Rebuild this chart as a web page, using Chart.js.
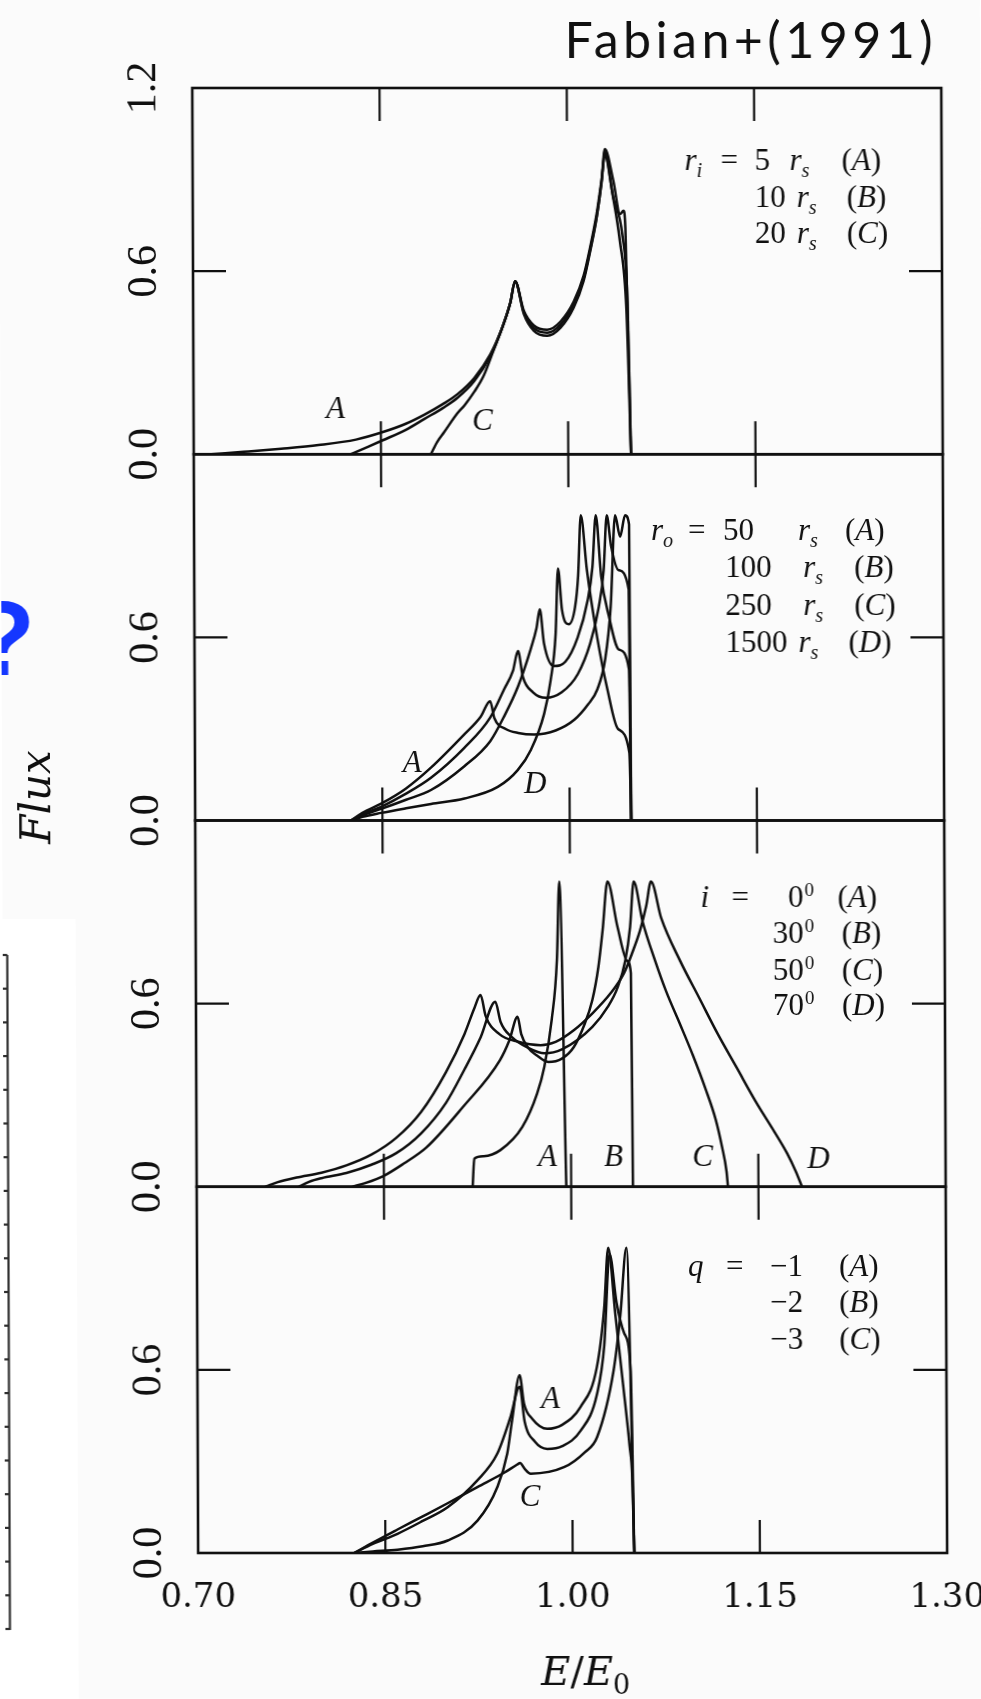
<!DOCTYPE html>
<html><head><meta charset="utf-8">
<script src="https://cdn.jsdelivr.net/npm/chart.js@4.4.1/dist/chart.umd.min.js"></script>
<style>
html,body{margin:0;padding:0;background:#fff;overflow:hidden;}
#c{display:block;width:981px;height:1699px;transform:skewX(0.23deg);transform-origin:0 270px;}
</style></head>
<body><canvas id="c" width="981" height="1699"></canvas>
<script>
// ---------------- axis ticks ----------------
const X_TICKS = [0.70, 0.85, 1.00, 1.15, 1.30];
const X_INNER_TICKS = [0.85, 1.00, 1.15];
const Y_TICKS_TOP = [0.0, 0.6, 1.2];
const Y_TICKS = [0.0, 0.6];
const Y_INNER_TICKS = [0.6];

// ---------------- panel 1 : r_i = 5, 10, 20 r_s ----------------
const P1_A_E = [0.714,0.74,0.77,0.80,0.83,0.851,0.87,0.885,0.90,0.9115,0.925,0.938,0.948,0.954,0.958,0.9649,0.9729,0.9836,0.9943,1.0049,1.0129,1.0183,1.0236,1.0276,1.0303,1.037,1.0423,1.045,1.0465,1.0503];
const P1_A_F = [0,0.008,0.018,0.03,0.048,0.072,0.10,0.13,0.165,0.197,0.25,0.328,0.42,0.495,0.567,0.459,0.404,0.388,0.415,0.481,0.568,0.666,0.776,0.896,1.0,0.896,0.787,0.798,0.74,0];
const P1_B_E = [0.826,0.84,0.851,0.87,0.885,0.90,0.9115,0.925,0.938,0.948,0.954,0.958,0.9649,0.9729,0.9836,0.9943,1.0049,1.0129,1.0183,1.0236,1.0276,1.0303,1.036,1.042,1.047,1.0503];
const P1_B_F = [0,0.025,0.045,0.08,0.116,0.152,0.185,0.24,0.322,0.42,0.495,0.567,0.465,0.413,0.398,0.425,0.49,0.575,0.672,0.78,0.89,0.99,0.86,0.70,0.48,0];
const P1_C_E = [0.890,0.895,0.9006,0.9115,0.917,0.925,0.9326,0.94,0.948,0.954,0.958,0.9649,0.9729,0.9836,0.9943,1.0049,1.0129,1.0183,1.0236,1.0276,1.0303,1.037,1.044,1.048,1.0503];
const P1_C_F = [0,0.04,0.072,0.135,0.16,0.205,0.258,0.335,0.42,0.495,0.567,0.47,0.422,0.408,0.435,0.5,0.585,0.68,0.79,0.9,0.98,0.84,0.72,0.5,0];

// ---------------- panel 2 : r_o = 50, 100, 250, 1500 r_s ----------------
const P2_A_E = [0.825,0.834,0.849,0.869,0.889,0.9158,0.929,0.9366,0.940,0.949,0.959,0.9719,0.989,1.004,1.015,1.0226,1.029,1.0335,1.0373,1.0413,1.0453,1.0485,1.0493];
const P2_A_F = [0,0.025,0.055,0.105,0.173,0.282,0.34,0.391,0.335,0.30,0.287,0.282,0.295,0.33,0.38,0.43,0.53,0.70,1.0,0.93,1.0,0.97,0];
const P2_B_E = [0.825,0.834,0.849,0.869,0.889,0.9158,0.9366,0.9479,0.955,0.9591,0.963,0.971,0.9812,0.994,1.007,1.017,1.024,1.028,1.0306,1.034,1.040,1.048,1.0493];
const P2_B_F = [0,0.02,0.045,0.088,0.14,0.238,0.337,0.43,0.49,0.555,0.47,0.42,0.402,0.42,0.48,0.58,0.70,0.82,1.0,0.90,0.82,0.757,0];
const P2_C_E = [0.825,0.834,0.849,0.869,0.889,0.9158,0.9366,0.9479,0.9591,0.9692,0.974,0.9767,0.980,0.9879,0.997,1.007,1.015,1.019,1.0218,1.026,1.032,1.040,1.048,1.0493];
const P2_C_F = [0,0.017,0.038,0.068,0.10,0.178,0.26,0.342,0.44,0.56,0.63,0.692,0.58,0.506,0.52,0.60,0.72,0.83,1.0,0.80,0.67,0.56,0.495,0];
const P2_D_E = [0.825,0.834,0.849,0.869,0.889,0.9158,0.9425,0.9585,0.9692,0.9799,0.9852,0.9893,0.9914,0.9945,0.9999,1.005,1.0075,1.0098,1.0146,1.0226,1.0306,1.039,1.048,1.0493];
const P2_D_F = [0,0.012,0.025,0.04,0.054,0.072,0.11,0.165,0.232,0.35,0.46,0.61,0.826,0.69,0.643,0.70,0.80,1.0,0.82,0.60,0.43,0.30,0.222,0];

// ---------------- panel 3 : i = 0, 30, 50, 70 deg ----------------
const P3_A_E = [0.9211,0.9225,0.930,0.9434,0.9611,0.973,0.9789,0.9849,0.9893,0.9914,0.9961];
const P3_A_F = [0,0.092,0.10,0.12,0.196,0.305,0.393,0.546,0.743,1.0,0];
const P3_B_E = [0.8248,0.835,0.850,0.866,0.884,0.9137,0.9434,0.951,0.9576,0.9605,0.966,0.973,0.982,0.993,1.0026,1.011,1.0175,1.0225,1.026,1.030,1.038,1.0456,1.0485,1.0495];
const P3_B_F = [0,0.012,0.036,0.076,0.128,0.262,0.415,0.48,0.557,0.50,0.455,0.43,0.409,0.42,0.458,0.53,0.611,0.72,0.84,1.0,0.85,0.74,0.70,0];
const P3_C_E = [0.7818,0.79,0.80,0.82,0.84,0.86,0.88,0.90,0.915,0.928,0.9398,0.944,0.953,0.966,0.979,0.993,1.0175,1.030,1.038,1.044,1.048,1.051,1.058,1.068,1.0767,1.088,1.098,1.108,1.116,1.121,1.1245,1.1256];
const P3_C_F = [0,0.016,0.028,0.045,0.072,0.11,0.175,0.275,0.385,0.49,0.606,0.54,0.49,0.455,0.437,0.45,0.524,0.59,0.655,0.74,0.85,1.0,0.87,0.74,0.64,0.53,0.43,0.32,0.22,0.13,0.05,0];
const P3_D_E = [0.755,0.765,0.78,0.80,0.82,0.84,0.86,0.88,0.90,0.915,0.923,0.928,0.932,0.943,0.958,0.976,0.988,1.0026,1.018,1.032,1.043,1.050,1.056,1.061,1.0649,1.073,1.088,1.103,1.118,1.133,1.148,1.163,1.173,1.180,1.1849];
const P3_D_F = [0,0.015,0.03,0.046,0.07,0.105,0.16,0.245,0.375,0.50,0.585,0.628,0.56,0.50,0.475,0.464,0.475,0.513,0.57,0.633,0.70,0.77,0.84,0.92,1.0,0.88,0.74,0.62,0.50,0.39,0.28,0.18,0.11,0.05,0];

// ---------------- panel 4 : q = -1, -2, -3 ----------------
const P4_A_E = [0.8251,0.84,0.8598,0.88,0.90,0.9239,0.9399,0.9479,0.9519,0.9581,0.9615,0.968,0.980,0.992,1.0067,1.020,1.026,1.0294,1.035,1.041,1.046,1.048,1.0494];
const P4_A_F = [0,0.005,0.011,0.022,0.041,0.106,0.216,0.325,0.434,0.582,0.49,0.44,0.407,0.42,0.478,0.609,0.80,1.0,0.78,0.55,0.35,0.248,0];
const P4_B_E = [0.8251,0.84,0.8598,0.88,0.90,0.9239,0.9399,0.9506,0.9581,0.962,0.970,0.980,0.992,1.0067,1.020,1.026,1.0305,1.036,1.042,1.047,1.0494];
const P4_B_F = [0,0.03,0.063,0.105,0.15,0.238,0.325,0.445,0.545,0.43,0.365,0.341,0.35,0.40,0.52,0.68,0.98,0.82,0.72,0.6,0];
const P4_C_E = [0.8251,0.84,0.8598,0.88,0.90,0.9239,0.945,0.9559,0.9581,0.962,0.9666,0.9933,1.010,1.020,1.0334,1.039,1.044,1.0494];
const P4_C_F = [0,0.034,0.077,0.12,0.163,0.216,0.262,0.29,0.295,0.275,0.26,0.281,0.33,0.38,0.598,0.78,1.0,0];

const CURVES = [
  ['p1', P1_A_E, P1_A_F], ['p1', P1_B_E, P1_B_F], ['p1', P1_C_E, P1_C_F],
  ['p2', P2_A_E, P2_A_F], ['p2', P2_B_E, P2_B_F], ['p2', P2_C_E, P2_C_F], ['p2', P2_D_E, P2_D_F],
  ['p3', P3_A_E, P3_A_F], ['p3', P3_B_E, P3_B_F], ['p3', P3_C_E, P3_C_F], ['p3', P3_D_E, P3_D_F],
  ['p4', P4_A_E, P4_A_F], ['p4', P4_B_E, P4_B_F], ['p4', P4_C_E, P4_C_F]
];

// curve letters, placed in data coordinates of their panel
const CURVE_LABELS = [
  ['p1','A',0.8138,0.145], ['p1','C',0.9313,0.107],
  ['p2','A',0.8741,0.187], ['p2','D',0.9726,0.116],
  ['p3','A',0.9812,0.094], ['p3','B',1.0341,0.094], ['p3','C',1.1054,0.094], ['p3','D',1.1983,0.088],
  ['p4','A',0.9828,0.501], ['p4','C',0.9660,0.180]
];

// ---------------- styling ----------------
const INK = '#101010';
const SERIF = '"Liberation Serif", "DejaVu Serif", serif';
const DSERIF = '"DejaVu Serif", serif';
const LEG = 31;
const Y_FONT_SIZE = 42;

const mctx = document.createElement('canvas').getContext('2d');
mctx.font = `${Y_FONT_SIZE}px "Liberation Serif"`;
const yLabelW = mctx.measureText('0.0').width;
const Y_LABEL_CENTER = 144.5;
const AXIS_W = 193;
const yPad = AXIS_W - Y_LABEL_CENTER - yLabelW / 2;

function fontFor(st, size, fam) {
  fam = fam || SERIF;
  if (st === 'i') return `italic ${size}px ${fam}`;
  if (st === 'sub') return `italic ${Math.round(size * 0.66)}px ${fam}`;
  if (st === 'usub') return `${Math.round(size * 0.68)}px ${fam}`;
  if (st === 'sup') return `${Math.round(size * 0.62)}px ${fam}`;
  return `${size}px ${fam}`;
}
function drawSegs(c, segs, yBase, size, fam) {
  segs.forEach(([x, parts, align]) => {
    const widths = parts.map(([t, st]) => { c.font = fontFor(st, size, fam); return c.measureText(t).width; });
    const total = widths.reduce((a, b) => a + b, 0);
    let cx = align === 'right' ? x - total : (align === 'center' ? x - total / 2 : x);
    parts.forEach(([t, st], i) => {
      c.font = fontFor(st, size, fam);
      const dy = (st === 'sub' || st === 'usub') ? size * 0.22 : (st === 'sup' ? -size * 0.36 : 0);
      c.fillText(t, cx, yBase + dy);
      cx += widths[i];
    });
  });
}
const RS = [['r','i'],['s','sub']];
const par = (L) => [['(', 'n'], [L, 'i'], [')', 'n']];
const LEGEND_LINES = [
  [170, [[685, [['r','i'],['i','sub']]], [721, [['=','n']]], [755, [['5','n']]], [790, RS], [842, par('A')]]],
  [207, [[755, [['10','n']]], [797, RS], [847, par('B')]]],
  [243, [[755, [['20','n']]], [797, RS], [847, par('C')]]],
  [540, [[650, [['r','i'],['o','sub']]], [687, [['=','n']]], [722, [['50','n']]], [797, RS], [844, par('A')]]],
  [577, [[724, [['100','n']]], [802, RS], [853, par('B')]]],
  [615, [[724, [['250','n']]], [802, RS], [853, par('C')]]],
  [652, [[724, [['1500','n']]], [797, RS], [847, par('D')]]],
  [907, [[698, [['i','i']]], [729, [['=','n']]], [801, [['0','n']], 'right'], [802, [['0','sup']]], [835, par('A')]]],
  [943, [[801, [['30','n']], 'right'], [802, [['0','sup']]], [839, par('B')]]],
  [980, [[801, [['50','n']], 'right'], [802, [['0','sup']]], [839, par('C')]]],
  [1015, [[801, [['70','n']], 'right'], [802, [['0','sup']]], [839, par('D')]]],
  [1276, [[684, [['q','i']]], [722, [['=','n']]], [766, [['\u22121','n']]], [835, par('A')]]],
  [1312, [[766, [['\u22122','n']]], [835, par('B')]]],
  [1349, [[766, [['\u22123','n']]], [835, par('C')]]]
];
const X_TITLE = [[580, [['E','i'], ['/','n'], ['E','i'], ['0','usub']], 'center']];

const decor = {
  id: 'decor',
  beforeDraw(chart) {
    const c = chart.ctx;
    c.save();
    c.fillStyle = '#fbfbfb';
    c.fillRect(0, 0, chart.width, chart.height);
    c.fillStyle = '#ffffff';
    c.fillRect(0, 919, 73, chart.height - 919);
    c.restore();
  },
  afterDraw(chart) {
    const c = chart.ctx;
    const xs = chart.scales.x;
    const ca = chart.chartArea;
    const line = (x1, y1, x2, y2) => { c.beginPath(); c.moveTo(x1, y1); c.lineTo(x2, y2); c.stroke(); };
    c.save();
    c.strokeStyle = INK;
    c.lineCap = 'butt';
    ['p1','p2','p3','p4'].forEach(id => {
      const ys = chart.scales[id];
      const T = ys.top, B = ys.bottom;
      c.lineWidth = 2.6;
      c.strokeRect(ca.left, T, ca.right - ca.left, B - T);
      c.lineWidth = 2.2;
      X_INNER_TICKS.forEach(v => {
        const px = xs.getPixelForValue(v);
        line(px, T, px, T + 33);
        line(px, B, px, B - 33);
      });
      Y_INNER_TICKS.forEach(v => {
        const py = ys.getPixelForValue(v);
        line(ca.left, py, ca.left + 33, py);
        line(ca.right, py, ca.right - 33, py);
      });
    });
    // panel legends
    c.fillStyle = INK;
    c.textAlign = 'left';
    c.textBaseline = 'alphabetic';
    LEGEND_LINES.forEach(([y, segs]) => drawSegs(c, segs, y, LEG));
    // x axis title E/E0
    drawSegs(c, X_TITLE, 1685, 40, DSERIF);
    // curve letters
    c.font = `italic ${LEG}px ${SERIF}`;
    c.textAlign = 'center';
    c.textBaseline = 'middle';
    CURVE_LABELS.forEach(([id, t, e, f]) => {
      c.fillText(t, xs.getPixelForValue(e), chart.scales[id].getPixelForValue(f));
    });
    // y axis title
    c.save();
    c.translate(37, 797);
    c.rotate(-Math.PI / 2);
    c.font = `italic 42px ${DSERIF}`;
    c.fillText('Flux', 0, 0);
    c.restore();
    // citation
    c.textAlign = 'right';
    c.textBaseline = 'alphabetic';
    c.font = '50px Lato, "Open Sans", sans-serif';
    try { c.letterSpacing = '4.5px'; } catch (e) {}
    c.fillText('Fabian+(1991)', 938, 58);
    try { c.letterSpacing = '0px'; } catch (e) {}
    // blue question mark (cropped at the page edge)
    c.textAlign = 'left';
    c.fillStyle = '#1537ff';
    c.font = 'bold 106px "Liberation Sans", Arial, sans-serif';
    c.fillText('?', -31, 675);
    // edge of a neighbouring figure
    c.strokeStyle = '#2e2e2e';
    c.lineWidth = 2.2;
    line(4.5, 955, 4.5, 1630);
    for (let k = 0; k <= 20; k++) {
      const y = 955 + k * 33.7;
      line(-2, y, 4.5, y);
    }
    c.restore();
  }
};

function yAxis(ticks) {
  return {
    type: 'linear', position: 'left', stack: 'panels', stackWeight: 1,
    min: 0, max: 1.2,
    afterBuildTicks: s => { s.ticks = ticks.map(v => ({ value: v })); },
    ticks: {
      autoSkip: false, minRotation: 90, maxRotation: 90, crossAlign: 'center',
      padding: yPad, color: INK, font: { family: 'Liberation Serif', size: Y_FONT_SIZE },
      callback: v => Number(v).toFixed(1)
    },
    grid: { display: false, drawTicks: false },
    border: { display: false },
    afterFit: s => { s.width = AXIS_W; s.paddingTop = 0; s.paddingBottom = 0; }
  };
}

const datasets = CURVES.map(([id, E, F]) => ({
  data: E.map((e, i) => ({ x: e, y: F[i] })),
  xAxisID: 'x', yAxisID: id,
  borderColor: INK, borderWidth: 2.5, pointRadius: 0, fill: false,
  cubicInterpolationMode: 'monotone'
}));

new Chart(document.getElementById('c'), {
  type: 'line',
  data: { datasets },
  options: {
    responsive: false, animation: false, events: [],
    layout: { padding: { top: 88, right: 39, left: 0, bottom: 0 } },
    plugins: { legend: { display: false }, tooltip: { enabled: false }, title: { display: false } },
    scales: {
      x: {
        type: 'linear', position: 'bottom', min: 0.7, max: 1.3,
        afterBuildTicks: s => { s.ticks = X_TICKS.map(v => ({ value: v })); },
        ticks: { autoSkip: false, maxRotation: 0, padding: 25, color: INK,
                 font: { family: 'DejaVu Serif', size: 34 }, callback: v => Number(v).toFixed(2) },
        grid: { display: false, drawTicks: false },
        border: { display: false },
        title: { display: false },
        afterFit: s => { s.height = 146; s.paddingLeft = 0; s.paddingRight = 0; }
      },
      p4: yAxis(Y_TICKS),
      p3: yAxis(Y_TICKS),
      p2: yAxis(Y_TICKS),
      p1: yAxis(Y_TICKS_TOP)
    }
  },
  plugins: [decor]
});
</script></body></html>
